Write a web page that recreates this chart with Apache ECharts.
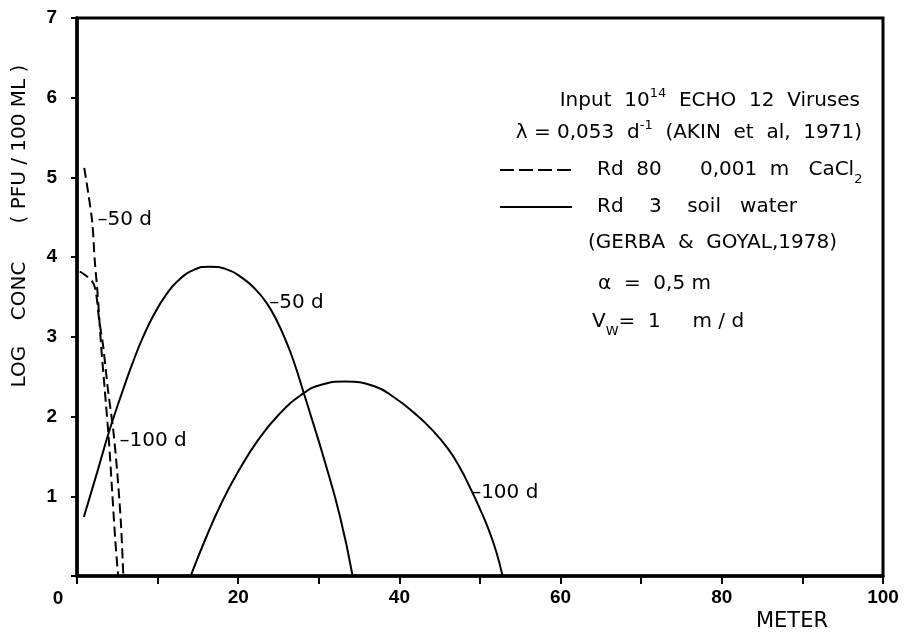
<!DOCTYPE html>
<html>
<head>
<meta charset="utf-8">
<script src="https://cdn.jsdelivr.net/npm/echarts@6/dist/echarts.min.js"></script>
<style>
  html, body { margin: 0; padding: 0; background: #fff; }
  #main { width: 914px; height: 634px; }
</style>
</head>
<body>
<div id="main"></div>
<script>
  // curves (meter, log conc)
  var dashed50X = [0.9, 1.4, 1.9, 2.2, 2.55, 3.0, 3.45, 3.95, 4.35, 4.75, 5.1];
  var dashed50Y = [5.12, 4.8, 4.43, 3.96, 3.55, 2.88, 2.33, 1.71, 1.08, 0.45, 0];
  var dashed100X = [0.35, 1.8, 2.3, 2.75, 3.25, 3.85, 4.5, 5.0, 5.45, 5.75];
  var dashed100Y = [3.82, 3.71, 3.59, 3.21, 2.88, 2.33, 1.83, 1.29, 0.66, 0];
  var solid50X = [0.85, 2.5, 4.1, 6.0, 7.0, 8.2, 9.5, 11.0, 12.5, 14.5, 16.5, 18.5, 20.5, 22.2, 23.5, 24.7, 26.0, 27.0, 28.0, 29.2, 30.5, 32.6, 34.2];
  var solid50Y = [0.74, 1.30, 1.85, 2.42, 2.70, 3.00, 3.27, 3.52, 3.70, 3.84, 3.88, 3.85, 3.74, 3.59, 3.43, 3.22, 2.93, 2.66, 2.34, 1.95, 1.52, 0.76, 0];
  var solid100X = [14.1, 16.0, 17.9, 20.0, 22.5, 25.0, 27.8, 30.3, 33.2, 36.9, 39.5, 41.9, 44.0, 46.0, 47.5, 48.9, 50.0, 51.0, 52.0, 52.8];
  var solid100Y = [0, 0.48, 0.91, 1.31, 1.71, 2.02, 2.27, 2.40, 2.44, 2.38, 2.23, 2.04, 1.84, 1.60, 1.36, 1.08, 0.84, 0.60, 0.31, 0];

  // curve labels (data coords of the leader start)
  var annX = [2.54, 5.27, 23.85, 48.9];
  var annY = [4.47, 1.69, 3.43, 1.05];
  var annText = ['\u201350 d', '\u2013100 d', '\u201350 d', '\u2013100 d'];

  var xTickLabels = ['20', '40', '60', '80', '100'];
  var yTickLabels = ['1', '2', '3', '4', '5', '6', '7'];

  var FONT = '"Liberation Sans", Arial, sans-serif';
  var TFONT = '"DejaVu Sans", sans-serif';

  function pairs(xs, ys) {
    return xs.map(function (x, i) { return [x, ys[i]]; });
  }

  var chartDom = document.getElementById('main');
  var myChart = echarts.init(chartDom, null, { renderer: 'canvas' });

  var dashStyle = { color: '#000', width: 2, type: [10, 5] };
  var solidStyle = { color: '#000', width: 2 };

  var option = {
    backgroundColor: '#fff',
    animation: false,
    grid: {
      left: 77, right: 31, top: 18, bottom: 58,
      show: true, borderColor: '#000', borderWidth: 3, backgroundColor: 'transparent'
    },
    xAxis: {
      type: 'value', min: 0, max: 100, interval: 10,
      axisLine: { show: true, lineStyle: { color: '#000', width: 3.5 } },
      axisTick: { show: true, inside: false, length: 8, lineStyle: { color: '#000', width: 2 } },
      splitLine: { show: false },
      axisLabel: {
        margin: 12, color: '#000', fontSize: 19, fontWeight: 'bold', fontFamily: FONT,
        formatter: function (v) {
          var s = String(v);
          return xTickLabels.indexOf(s) >= 0 ? s : '';
        }
      }
    },
    yAxis: {
      type: 'value', min: 0, max: 7, interval: 1,
      axisLine: { show: true, lineStyle: { color: '#000', width: 3.5 } },
      axisTick: { show: true, inside: false, length: 6, lineStyle: { color: '#000', width: 2 } },
      splitLine: { show: false },
      axisLabel: {
        margin: 20, color: '#000', fontSize: 19, fontWeight: 'bold', fontFamily: FONT,
        formatter: function (v) {
          var s = String(v);
          return yTickLabels.indexOf(s) >= 0 ? s : '';
        }
      }
    },
    series: [
      { name: 'Rd 80 50 d', type: 'line', data: pairs(dashed50X, dashed50Y), smooth: 0.3, symbol: 'none', lineStyle: dashStyle },
      { name: 'Rd 80 100 d', type: 'line', data: pairs(dashed100X, dashed100Y), smooth: 0.3, symbol: 'none', lineStyle: dashStyle },
      { name: 'Rd 3 50 d', type: 'line', data: pairs(solid50X, solid50Y), smooth: 0.5, symbol: 'none', lineStyle: solidStyle },
      { name: 'Rd 3 100 d', type: 'line', data: pairs(solid100X, solid100Y), smooth: 0.5, symbol: 'none', lineStyle: solidStyle }
    ]
  };
  myChart.setOption(option);

  var rich = {
    a: { fontSize: 20, fontFamily: TFONT, color: '#000', lineHeight: 24, verticalAlign: 'bottom' },
    sup: { fontSize: 13, fontFamily: TFONT, color: '#000', lineHeight: 24, verticalAlign: 'top' },
    sub: { fontSize: 13, fontFamily: TFONT, color: '#000', lineHeight: 24, verticalAlign: 'bottom', padding: [0, 0, -6, 0] }
  };

  // one line of the key block; all lines are rich text so they sit alike
  function keyLine(x, y, s, align) {
    return { type: 'text', x: x, y: y - 2,
      style: { text: s, rich: rich, align: align, verticalAlign: 'middle' } };
  }

  var graphics = [
    { type: 'text', x: 20, y: 226, rotation: Math.PI / 2,
      style: { text: 'LOG    CONC      ( PFU / 100 ML )', fill: '#000', font: '20px ' + TFONT,
               align: 'center', verticalAlign: 'middle' } },
    { type: 'text', x: 792, y: 622,
      style: { text: 'METER', fill: '#000', font: '21px ' + TFONT, align: 'center', verticalAlign: 'middle' } },
    { type: 'text', x: 58, y: 599,
      style: { text: '0', fill: '#000', font: 'bold 19px ' + FONT, align: 'center', verticalAlign: 'middle' } },
    { type: 'line', shape: { x1: 500, y1: 170, x2: 572, y2: 170 },
      style: { stroke: '#000', lineWidth: 2, lineDash: [14, 5] } },
    { type: 'line', shape: { x1: 500, y1: 207, x2: 572, y2: 207 },
      style: { stroke: '#000', lineWidth: 2 } },
    keyLine(860, 101, '{a|Input  10}{sup|14}{a|  ECHO  12  Viruses}', 'right'),
    keyLine(862, 133, '{a|\u03bb = 0,053  d}{sup|-1}{a|  (AKIN  et  al,  1971)}', 'right'),
    keyLine(597, 170, '{a|Rd  80      0,001  m   CaCl}{sub|2}', 'left'),
    keyLine(597, 207, '{a|Rd    3    soil   water}', 'left'),
    keyLine(588, 243, '{a|(GERBA  &  GOYAL,1978)}', 'left'),
    keyLine(598, 284, '{a|\u03b1  =  0,5 m}', 'left'),
    keyLine(592, 322, '{a|V}{sub|W}{a|=  1     m / d}', 'left')
  ];

  // curve labels positioned through the axes
  annX.forEach(function (x, i) {
    var p = myChart.convertToPixel({ gridIndex: 0 }, [x, annY[i]]);
    graphics.push({ type: 'text', x: p[0], y: p[1],
      style: { text: annText[i], fill: '#000', font: '20px ' + TFONT, align: 'left', verticalAlign: 'middle' } });
  });

  myChart.setOption({ graphic: graphics });

  window.onresize = function () {
    myChart.resize();
  };
</script>
</body>
</html>
